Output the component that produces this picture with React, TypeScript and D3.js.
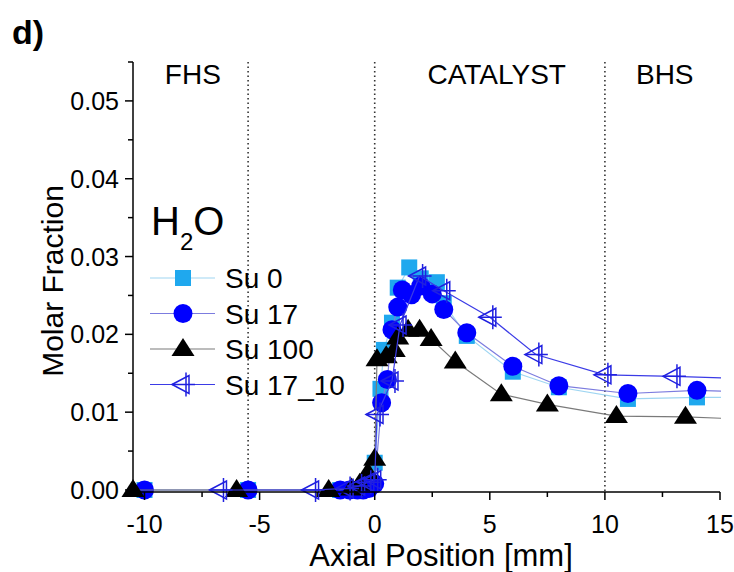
import React from "react";
import * as d3 from "d3";

// ---------- data ----------
const su0X = [-10, -5.5, -1.5, -1, -0.5, -0.25, 0, 0.25, 0.4, 0.75, 1.0, 1.5, 2.0, 2.7, 3.0, 4.0, 6.0, 8.0, 11.0, 14.0, 16];
const su0Y = [0, 0, 0, 0, 0.0003, 0.0008, 0.0035, 0.013, 0.018, 0.0215, 0.026, 0.0286, 0.0272, 0.0267, 0.024, 0.0198, 0.0152, 0.0132, 0.0117, 0.0119, 0.0119];

const su17X = [-10, -5.5, -1.5, -1.1, -0.75, -0.5, -0.25, 0, 0.3, 0.55, 0.75, 1.0, 1.2, 1.6, 2.0, 2.5, 3.0, 4.0, 6.0, 8.0, 11.0, 14.0, 16];
const su17Y = [0, 0, 0, 0, 0, 0, 0.0002, 0.0008, 0.0112, 0.0142, 0.0206, 0.0235, 0.0257, 0.0251, 0.0262, 0.0252, 0.0232, 0.0202, 0.0159, 0.0134, 0.0124, 0.0128, 0.0126];

const su100X = [-10.5, -6, -2, -1, -0.65, -0.3, 0, 0.1, 0.5, 0.85, 1.0, 1.45, 1.95, 2.45, 3.5, 5.5, 7.5, 10.5, 13.5, 16];
const su100Y = [0, 0, 0, 0.0002, 0.0008, 0.0022, 0.004, 0.0168, 0.0172, 0.018, 0.0196, 0.0206, 0.0206, 0.0194, 0.0165, 0.0123, 0.011, 0.0095, 0.0094, 0.0091];

const su1710X = [-6.7, -2.7, -1.2, -0.7, -0.3, 0, 0.1, 0.75, 1.1, 1.95, 3.0, 5.0, 7.0, 10.0, 13.0, 16];
const su1710Y = [0, 0, 0.0002, 0.0005, 0.001, 0.0013, 0.0097, 0.014, 0.0212, 0.0275, 0.0256, 0.0222, 0.0174, 0.0148, 0.0146, 0.0143];

const seriesNames = ["Su 0", "Su 17", "Su 100", "Su 17_10"];

const xMajorTicks = [-10, -5, 0, 5, 10, 15];
const xMinorTicks = [-7.5, -2.5, 2.5, 7.5, 12.5];
const yMajorTicks = [0, 0.01, 0.02, 0.03, 0.04, 0.05];
const yMinorTicks = [0.005, 0.015, 0.025, 0.035, 0.045, 0.055];

const regionBounds = [-5.5, 0, 10];
const regionLabels = ["FHS", "CATALYST", "BHS"];
const regionLabelX = [-7.9, 5.3, 12.6];

// ---------- layout ----------
const W = 734, H = 572;
const L = 133, R = 720, T = 62, B = 492;
const FONT = "'Liberation Sans', Arial, sans-serif";

const x = d3.scaleLinear().domain([-10.5, 15]).range([L, R]);
const y = d3.scaleLinear().domain([-0.00026, 0.055]).range([B, T]);

type Style = { line: string; kind: string; color: string };
const styles: Style[] = [
  { line: "#9fd6f2", kind: "square", color: "#1fa8ee" },
  { line: "#7c7cdf", kind: "circle", color: "#0000ff" },
  { line: "#7a7a7a", kind: "triangle", color: "#000000" },
  { line: "#3b3be6", kind: "ltri", color: "#2020e0" },
];

const data = [
  su0X.map((v, i) => [v, su0Y[i]] as [number, number]),
  su17X.map((v, i) => [v, su17Y[i]] as [number, number]),
  su100X.map((v, i) => [v, su100Y[i]] as [number, number]),
  su1710X.map((v, i) => [v, su1710Y[i]] as [number, number]),
];

function Marker({ kind, color, cx, cy }: { kind: string; color: string; cx: number; cy: number }) {
  if (kind === "square") return <rect x={cx - 8} y={cy - 8} width={16} height={16} fill={color} />;
  if (kind === "circle") return <circle cx={cx} cy={cy} r={9.5} fill={color} />;
  if (kind === "triangle")
    return <path d={`M${cx},${cy - 11}L${cx + 11.5},${cy + 7}L${cx - 11.5},${cy + 7}Z`} fill={color} />;
  // open left-pointing triangle with cross
  return (
    <g fill="none" stroke={color} strokeWidth={1.5}>
      <path d={`M${cx - 11},${cy}L${cx + 6},${cy - 9}L${cx + 6},${cy + 9}Z`} />
      <path d={`M${cx + 3},${cy - 12}L${cx + 3},${cy + 12}M${cx - 11},${cy}L${cx + 12},${cy}`} />
    </g>
  );
}

export default function App() {
  const line = d3
    .line<[number, number]>()
    .x((d) => x(d[0]))
    .y((d) => y(d[1]));

  return (
    <div style={{ position: "fixed", left: 0, top: 0 }}>
      <svg width={W} height={H} style={{ display: "block", background: "#fff" }} fontFamily={FONT}>
        <defs>
          <clipPath id="plotClip">
            <rect x={0} y={0} width={R + 1} height={H} />
          </clipPath>
        </defs>

        <text x={12} y={44} fontSize={34} fontWeight="bold" fill="#000">d)</text>

        {/* region separators */}
        {regionBounds.map((b, i) => (
          <line key={i} x1={x(b)} x2={x(b)} y1={T} y2={B} stroke="#333" strokeWidth={1.6} strokeDasharray="1.5,3" />
        ))}
        {regionLabels.map((t, i) => (
          <text key={t} x={x(regionLabelX[i])} y={84} fontSize={28} textAnchor="middle" fill="#000">{t}</text>
        ))}

        {/* series */}
        <g clipPath="url(#plotClip)">
          {data.map((d, si) => (
            <g key={si}>
              <path d={line(d) || ""} fill="none" stroke={styles[si].line} strokeWidth={1.2} />
              {d.map((p, i) => (
                <Marker key={i} kind={styles[si].kind} color={styles[si].color} cx={x(p[0])} cy={y(p[1])} />
              ))}
            </g>
          ))}
        </g>

        {/* axes */}
        <g stroke="#000" strokeWidth={1.5}>
          <line x1={L} x2={L} y1={T} y2={B + 0.75} />
          <line x1={L} x2={R} y1={B} y2={B} />
          {yMajorTicks.map((t) => (
            <line key={t} x1={L - 8} x2={L} y1={y(t)} y2={y(t)} />
          ))}
          {yMinorTicks.map((t) => (
            <line key={t} x1={L - 5} x2={L} y1={y(t)} y2={y(t)} />
          ))}
          {xMajorTicks.map((t) => (
            <line key={t} x1={x(t)} x2={x(t)} y1={B} y2={B + 8} />
          ))}
          {xMinorTicks.map((t) => (
            <line key={t} x1={x(t)} x2={x(t)} y1={B} y2={B + 5} />
          ))}
        </g>
        {yMajorTicks.map((t) => (
          <text key={t} x={L - 14} y={y(t) + 9} fontSize={25} textAnchor="end" fill="#000">
            {t.toFixed(2)}
          </text>
        ))}
        {xMajorTicks.map((t) => (
          <text key={t} x={x(t)} y={533} fontSize={25} textAnchor="middle" fill="#000">
            {t < 0 ? `-${Math.abs(t)}` : `${t}`}
          </text>
        ))}
        <text x={441} y={566} fontSize={31} textAnchor="middle" fill="#000">Axial Position [mm]</text>
        <text transform={`translate(63,281) rotate(-90)`} fontSize={30} textAnchor="middle" fill="#000">
          Molar Fraction
        </text>

        {/* species label */}
        <text x={151} y={235} fontSize={40} fill="#000">
          H
          <tspan fontSize={24} dy={15}>2</tspan>
          <tspan fontSize={40} dy={-15}>O</tspan>
        </text>

        {/* legend */}
        {seriesNames.map((n, i) => {
          const ly = 278 + i * 35.5;
          return (
            <g key={n}>
              <line x1={150} x2={215} y1={ly} y2={ly} stroke={styles[i].line} strokeWidth={1.2} />
              <Marker kind={styles[i].kind} color={styles[i].color} cx={183} cy={ly} />
              <text x={225} y={ly + 10} fontSize={28} fill="#000">{n}</text>
            </g>
          );
        })}
      </svg>
    </div>
  );
}
